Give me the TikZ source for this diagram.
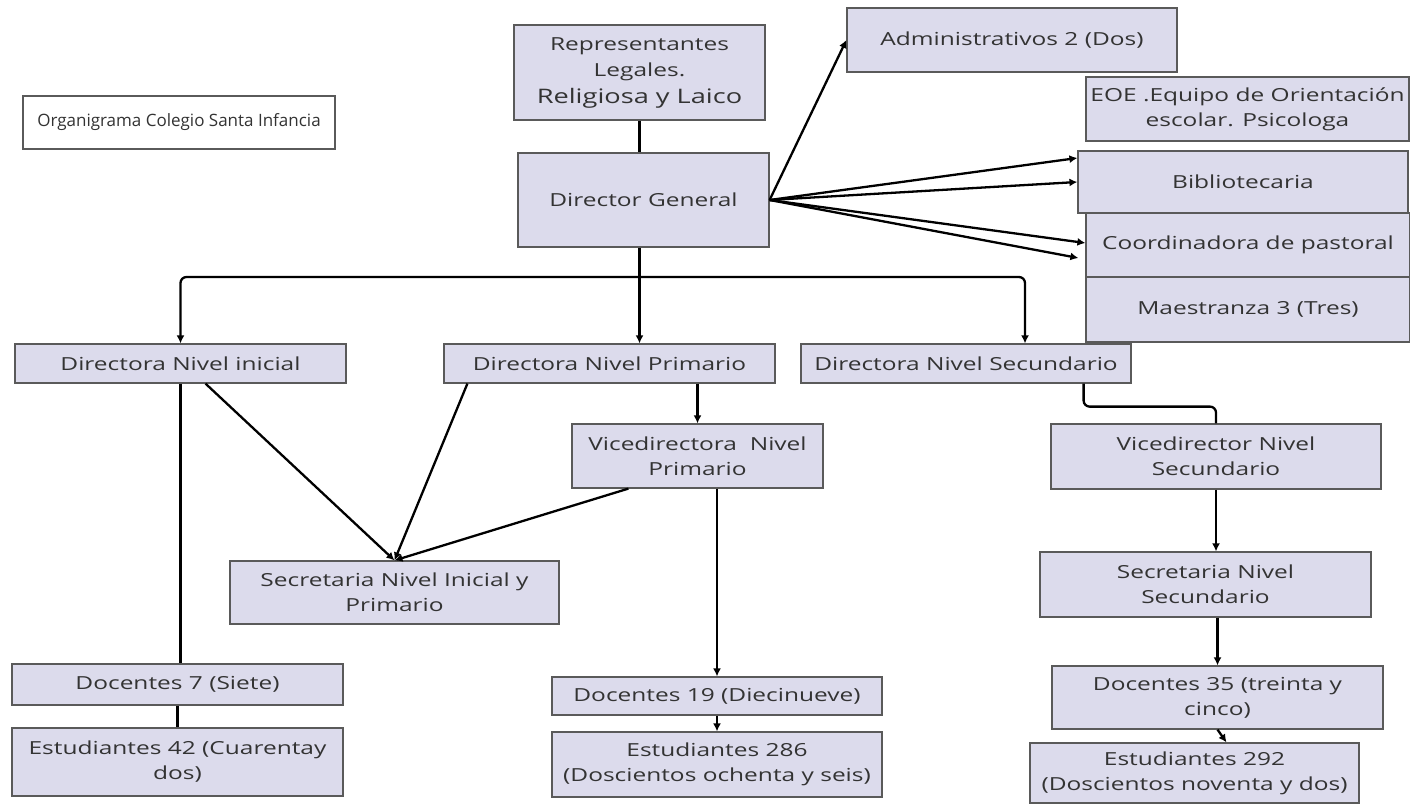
\documentclass[tikz,border=0pt]{standalone}
\usepackage{fontspec}
\setmainfont{Open Sans}[FakeStretch=1.36]
\newfontfamily\titlefont{Open Sans}
\usetikzlibrary{arrows.meta,calc}
\definecolor{boxfill}{HTML}{DCDBEC}
\definecolor{boxline}{HTML}{5A5A5A}
\definecolor{txt}{HTML}{333333}
\begin{document}
\begin{tikzpicture}[x=1pt,y=-1pt,
  box/.style={draw=boxline,line width=1.2pt,fill=boxfill,inner sep=0pt,align=center,text=txt,font=\fontsize{18}{25}\selectfont},
  plainbox/.style={box,fill=white,font=\titlefont\fontsize{17}{20}\selectfont},
  link/.style={line width=2.3pt,black},
  arr/.style={link,-{Latex[length=8pt,width=8pt]}}]
\useasboundingbox (0,0) rectangle (1410,808);
% nodes
\node[plainbox,minimum width=312,minimum height=53] (title) at (179,122.5) {Organigrama Colegio Santa Infancia};
\node[box,minimum width=251,minimum height=95,font=\fontsize{18}{26.5}\selectfont] (rep) at (639.5,72.5) {Representantes\\Legales.\\{\fontsize{20}{22}\selectfont Religiosa y Laico}};
\node[box,minimum width=251,minimum height=94] (dg) at (643.5,200) {Director General};
\node[box,minimum width=330,minimum height=64] (adm) at (1012,40) {Administrativos 2 (Dos)};
\node[box,minimum width=323,minimum height=64] (eoe) at (1247.5,109) {EOE .Equipo de Orientación\\escolar. Psicologa};
\node[box,minimum width=330,minimum height=62] (bib) at (1243,182) {Bibliotecaria};
\node[box,minimum width=324,minimum height=64] (coord) at (1248,245) {Coordinadora de pastoral};
\node[box,minimum width=324,minimum height=65] (maes) at (1248,309.5) {Maestranza 3 (Tres)};
\node[box,minimum width=331,minimum height=39] (dni) at (180.5,363.5) {Directora Nivel inicial};
\node[box,minimum width=331,minimum height=39] (dnp) at (609.5,363.5) {Directora Nivel Primario};
\node[box,minimum width=330,minimum height=39] (dns) at (966,363.5) {Directora Nivel Secundario};
\node[box,minimum width=251,minimum height=64] (vdp) at (697.5,456) {Vicedirectora~~Nivel\\Primario};
\node[box,minimum width=330,minimum height=65] (vds) at (1216,456.5) {Vicedirector Nivel\\Secundario};
\node[box,minimum width=329,minimum height=63] (sip) at (394.5,592.5) {Secretaria Nivel Inicial y\\Primario};
\node[box,minimum width=331,minimum height=65] (ssec) at (1205.5,584.5) {Secretaria Nivel\\Secundario};
\node[box,minimum width=331,minimum height=41] (d7) at (177.5,684.5) {Docentes 7 (Siete)};
\node[box,minimum width=331,minimum height=68] (e42) at (177.5,762) {Estudiantes 42 (Cuarentay\\dos)};
\node[box,minimum width=330,minimum height=38] (d19) at (717,696) {Docentes 19 (Diecinueve)};
\node[box,minimum width=330,minimum height=65] (e286) at (717,764.5) {Estudiantes 286\\(Doscientos ochenta y seis)};
\node[box,minimum width=331,minimum height=63] (d35) at (1217.5,697.5) {Docentes 35 (treinta y\\cinco)};
\node[box,minimum width=329,minimum height=60] (e292) at (1194.5,773) {Estudiantes 292\\(Doscientos noventa y dos)};
% connectors
\coordinate (stem) at (639,277);
\draw[link] (rep.south) -- (rep.south |- dg.north);
\draw[arr] (dg.east) -- (adm.west);
\draw[arr] (dg.east) -- ($(bib.west)+(0,-24)$);
\draw[arr] (dg.east) -- (bib.west);
\draw[arr] (dg.east) -- ($(coord.west)+(0,-2)$);
\draw[arr] (dg.east) -- ($(coord.west)+(-7,13)$);
\draw[arr] (rep.south |- dg.south) -- (rep.south |- dnp.north);
\draw[arr,rounded corners=6] (stem) -| (dni.north);
\draw[arr,rounded corners=6] (stem) -| ($(dns.north)+(59,0)$);
\draw[link] (dni.south) -- (dni.south |- d7.north);
\draw[link] (d7.south) -- (e42.north);
\draw[arr] ($(dni.south)+(25,0)$) -- (sip.north);
\draw[arr] ($(dnp.south west)+(24,0)$) -- (sip.north);
\draw[arr] ($(vdp.south west)+(57,0)$) -- (sip.north);
\draw[arr] (vdp.north |- dnp.south) -- (vdp.north);
\draw[arr] (d19.north |- vdp.south) -- (d19.north);
\draw[arr] (d19.south) -- (e286.north);
\draw[link,rounded corners=6] ($(dns.south east)+(-48,0)$) -- ++(0,23) -| (vds.north);
\draw[arr] (vds.south) -- (vds.south |- ssec.north);
\draw[arr] (d35.north |- ssec.south) -- (d35.north);
\draw[arr] (d35.south) -- ($(e292.north)+(32,0)$);
\end{tikzpicture}
\end{document}
